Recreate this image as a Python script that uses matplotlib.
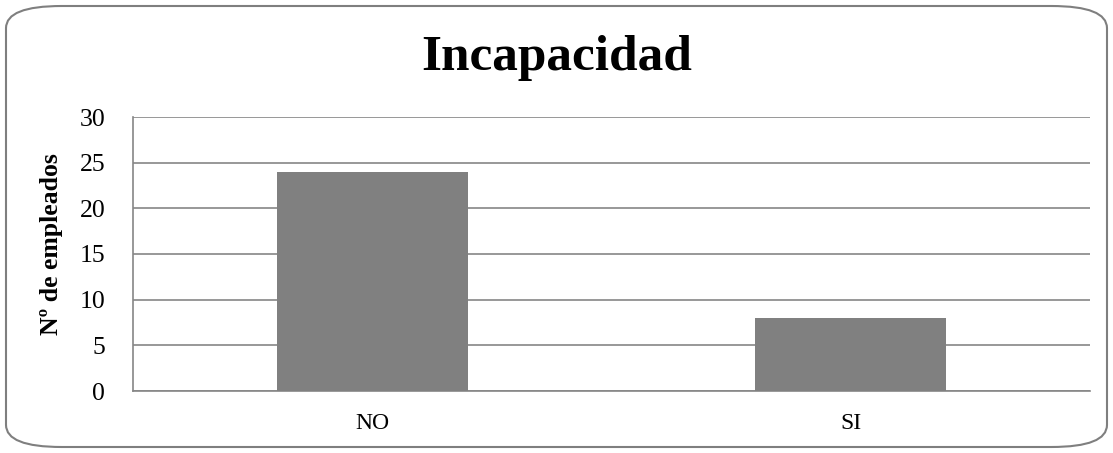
import matplotlib
matplotlib.use("Agg")
import matplotlib.pyplot as plt
from matplotlib.patches import FancyBboxPatch

categories = ["NO", "SI"]
values = [24, 8]
yticks = [0, 5, 10, 15, 20, 25, 30]
title = "Incapacidad"
ylabel = "Nº de empleados"

plt.rcParams['font.family'] = ['Liberation Serif', 'DejaVu Serif']

fig = plt.figure(figsize=(11.13, 4.53), dpi=100)
border = FancyBboxPatch((6/1113, 6/453), 1101/1113, 441/453,
                        boxstyle="round,pad=0,rounding_size=0.05",
                        transform=fig.transFigure, facecolor="none",
                        edgecolor="#7f7f7f", linewidth=1.5, mutation_aspect=453/1113*2.4,
                        zorder=-1)
fig.patches.append(border)

ax = fig.add_axes([133/1113, 1-391/453, (1090-133)/1113, (391-117)/453])
ax.set_facecolor("none")
x = list(range(len(categories)))
ax.bar(x, values, width=0.4, color="#808080", zorder=3)
ax.set_xlim(-0.5, 1.5)
ax.set_ylim(0, 30)
ax.set_yticks(yticks)
ax.set_xticks(x)
ax.set_xticklabels(categories)
ax.yaxis.grid(True, color="#868686", linewidth=1.2, zorder=0)
for s in ["top", "right"]:
    ax.spines[s].set_visible(False)
for s in ["left", "bottom"]:
    ax.spines[s].set_color("#868686")
    ax.spines[s].set_linewidth(1.2)
ax.tick_params(axis="both", length=0)
ax.tick_params(axis="y", pad=20, labelsize=18.5)
ax.tick_params(axis="x", pad=16, labelsize=17)
ax.set_ylabel(ylabel, fontsize=18.5, fontweight="bold")
ax.yaxis.set_label_coords(-0.073, 0.535)
fig.text(0.5, 1-58/453, title, ha="center", va="center", fontsize=37, fontweight="bold")

fig.savefig("out.png", dpi=100)
